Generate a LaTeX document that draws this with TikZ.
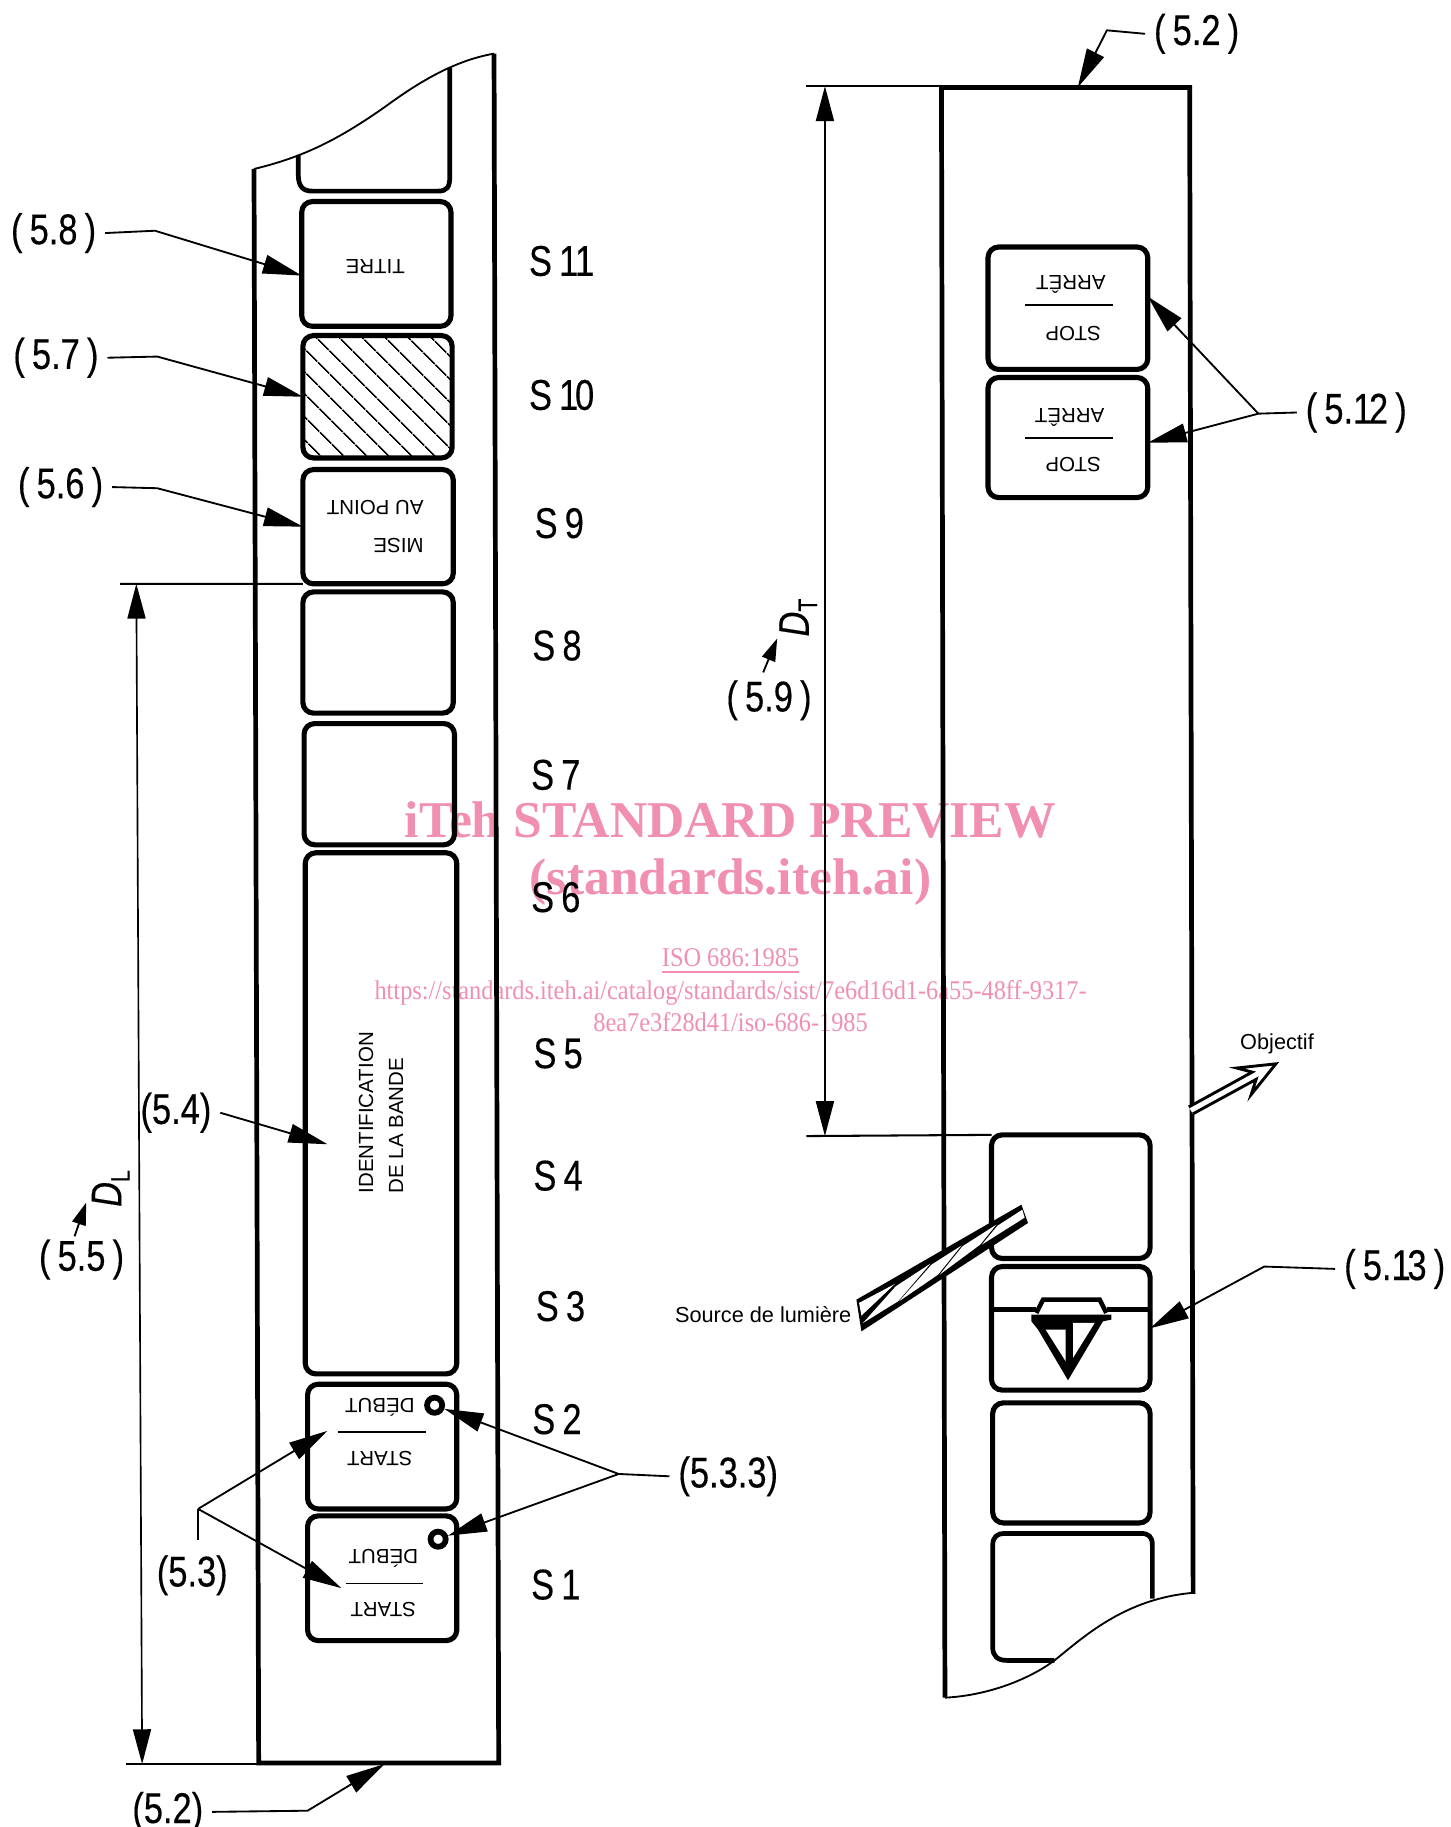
\documentclass[tikz,border=0pt]{standalone}
\usepackage{fontspec}
\setmainfont{Liberation Sans}
\newfontfamily\dinfont[FakeStretch=0.8,FakeBold=0.3,WordSpace=0.75]{Liberation Sans}
\newfontfamily\markfont{Liberation Serif}
\newfontfamily\urlfont[FakeStretch=0.9]{Liberation Serif}
\usetikzlibrary{arrows.meta,patterns.meta}
\definecolor{markpink}{HTML}{F08FAF}
\tikzset{
  stripline/.style={line width=1.15pt},
  cell/.style={draw, line width=1.25pt, rounded corners=2.6pt, inner sep=0pt, outer sep=0pt},
  tag/.style={font=\dinfont\fontsize{10.5}{12}\selectfont, inner sep=2pt},
  tiny/.style={font=\fontsize{5}{5.8}\selectfont, inner sep=0pt},
  leader/.style={line width=.45pt},
  pointer/.style={leader, -{Triangle[length=9.5pt, width=4.6pt]}},
  dimline/.style={line width=.4pt, {Triangle[length=8.5pt, width=4.4pt]}-{Triangle[length=8.5pt, width=4.4pt]}},
  extline/.style={line width=.5pt},
  rulebar/.style={line width=.4pt},
  hole/.style={circle, draw, line width=1.4pt, minimum size=.13cm, inner sep=0pt},
  stamptext/.style={text=markpink, font=\markfont\bfseries\fontsize{12.6}{14}\selectfont, inner sep=0pt},
  stampurl/.style={text=markpink, font=\urlfont\fontsize{6.6}{7}\selectfont, inner sep=0pt}
}
\begin{document}
\begin{tikzpicture}[x=.01cm, y=-.01cm]
  \useasboundingbox (0, 0) rectangle (1245, 1568);

  % watermark
  \node [stamptext] (wm1) at (627, 704) {iTeh STANDARD PREVIEW};
  \node [stamptext] (wm2) at (627, 757) {(standards.iteh.ai)};
  \node [stampurl] (wm3) at (627, 825) {\underline{ISO 686:1985}};
  \node [stampurl] (wm4) at (627, 852) {https://standards.iteh.ai/catalog/standards/sist/7e6d16d1-6a55-48ff-9317-};
  \node [stampurl] (wm5) at (627, 877) {8ea7e3f28d41/iso-686-1985};

  % left strip
  \draw [stripline] (218, 145) -- (222, 1513) -- (428, 1513) -- (424, 46);
  \draw [leader] (218, 145) .. controls (260, 135) and (290, 120) .. (330, 92) .. controls (360, 70) and (390, 52) .. (424, 46);
  \draw [stripline] (256, 133) -- (256, 150) .. controls (256, 160) and (260, 164) .. (268, 164) -- (376, 164) .. controls (384, 164) and (386, 160) .. (386, 152) -- (386, 58);
  \node [cell, minimum width=1.28cm, minimum height=1.07cm] (s11) at (323, 226.5) {};
  \node [cell, minimum width=1.28cm, minimum height=1.05cm, pattern={Lines[angle=-45, distance=4pt, line width=.4pt]}] (s10) at (324, 340.5) {};
  \node [cell, minimum width=1.29cm, minimum height=.98cm] (s9) at (324.5, 452) {};
  \node [cell, minimum width=1.29cm, minimum height=1.04cm] (s8) at (324.5, 560) {};
  \node [cell, minimum width=1.29cm, minimum height=1.04cm] (s7) at (325.5, 673) {};
  \node [cell, minimum width=1.30cm, minimum height=4.47cm] (s3) at (327, 955.5) {};
  \node [cell, minimum width=1.28cm, minimum height=1.07cm] (s2) at (328, 1241.5) {};
  \node [cell, minimum width=1.28cm, minimum height=1.07cm] (s1) at (328, 1354.5) {};

  % texts on the left cells
  \node [tiny, rotate=180] (titre) at (322, 229) {TITRE};
  \node [tiny, rotate=180, align=left] (mise) at (322, 452) {MISE\\[3.6pt]AU POINT};
  \node [tiny, rotate=90, align=left] (ident) at (327, 955) {IDENTIFICATION\\[1.5pt]DE LA BANDE};
  \node [tiny, rotate=180] (debut2) at (326, 1208) {DÉBUT};
  \node [tiny, rotate=180] (start2) at (326, 1252) {START};
  \node [tiny, rotate=180] (debut1) at (329, 1337) {DÉBUT};
  \node [tiny, rotate=180] (start1) at (329, 1381) {START};
  \draw [rulebar] (290, 1229) -- (366, 1229);
  \draw [rulebar] (297, 1359) -- (363, 1359);
  \node [hole] (hole2) at (373, 1206) {};
  \node [hole] (hole1) at (376, 1321) {};

  % frame numbers
  \node [tag] (n11) at (482, 224) {S 1\kern-.8pt 1};
  \node [tag] (n10) at (482, 339) {S 1\kern-.8pt 0};
  \node [tag] (n9) at (480, 449) {S 9};
  \node [tag] (n8) at (478, 554) {S 8};
  \node [tag] (n7) at (477, 665) {S 7};
  \node [tag] (n6) at (477, 770) {S 6};
  \node [tag] (n5) at (479, 904) {S 5};
  \node [tag] (n4) at (479, 1009) {S 4};
  \node [tag] (n3) at (481, 1121) {S 3};
  \node [tag] (n2) at (478, 1218) {S 2};
  \node [tag] (n1) at (477, 1360) {S 1};

  % left references
  \node [tag] (ref58) at (46, 200) {( 5.8 )};
  \node [tag] (ref57) at (48, 307) {( 5.7 )};
  \node [tag] (ref56) at (52, 418) {( 5.6 )};
  \node [tag] (ref54) at (151, 955) {(5.4)};
  \node [tag] (ref55) at (70, 1081) {( 5.5 )};
  \node [tag] (ref53) at (165, 1352) {(5.3)};
  \node [tag] (ref533) at (625, 1267) {(5.3.3)};
  \node [tag] (ref52a) at (144, 1555) {(5.2)};
  \draw [pointer] (ref58.east) -- (133, 198) -- ([yshift=-.1cm]s11.west);
  \draw [pointer] (ref57.east) -- (135, 306) -- (s10.west);
  \draw [pointer] (ref56.east) -- (135, 419) -- (s9.west);
  \draw [pointer] (ref54.east) -- (281, 982);
  \coordinate (apex53) at (170, 1295);
  \coordinate (apex533) at (531, 1265);
  \draw [leader] (apex53) -- ([yshift=.05cm]ref53.north -| apex53);
  \draw [pointer] (apex53) -- (281, 1228);
  \draw [pointer] (apex53) -- (293, 1363);
  \draw [leader] (ref533.west) -- (apex533);
  \draw [pointer] (apex533) -- (hole2);
  \draw [pointer] (apex533) -- (hole1);
  \draw [pointer] (ref52a.east) -- (264, 1554) -- (330, 1514);

  % left dimension
  \coordinate (dl1) at (117, 501);
  \coordinate (dl2) at (122, 1514);
  \draw [extline] (103, 501) -- (s9.south west);
  \draw [extline] (108, 1514) -- (222, 1514);
  \draw [dimline] (dl1) -- (dl2);
  \node [tag, rotate=90] (dl) at (95, 1020) {{\itshape D}\raisebox{-2pt}{\fontsize{6.5}{7}\selectfont L}};
  \draw [leader, -{Triangle[length=5.5pt, width=3.4pt]}] ([shift={(-6, 5)}]ref55.north) -- (74, 1032);

  % right strip
  \draw [stripline] (811, 1457) -- (808, 75) -- (1021, 75) -- (1024, 1368);
  \draw [leader] (811, 1457) .. controls (850, 1455) and (885, 1440) .. (905, 1425) .. controls (930, 1405) and (965, 1372) .. (1024, 1367);
  \node [cell, minimum width=1.37cm, minimum height=1.05cm] (stop2) at (916.5, 264.5) {};
  \node [cell, minimum width=1.37cm, minimum height=1.03cm] (stop1) at (916.5, 375.5) {};
  \node [tiny, rotate=180] (arret2) at (919, 244) {ARRÊT};
  \node [tiny, rotate=180] (halt2) at (921, 286) {STOP};
  \node [tiny, rotate=180] (arret1) at (918, 358) {ARRÊT};
  \node [tiny, rotate=180] (halt1) at (921, 399) {STOP};
  \draw [rulebar] (880, 262) -- (955, 262);
  \draw [rulebar] (880, 376) -- (955, 376);
  \node [cell, minimum width=1.36cm, minimum height=1.06cm] (c4) at (919, 1027) {};
  \node [cell, minimum width=1.36cm, minimum height=1.06cm] (c3) at (919, 1140) {};
  \node [cell, minimum width=1.35cm, minimum height=1.03cm] (c2) at (919.5, 1255.5) {};
  \draw [stripline] (905, 1425) -- (864, 1425) .. controls (856, 1425) and (852, 1421) .. (852, 1414) -- (852, 1326) .. controls (852, 1319) and (856, 1316) .. (862, 1316) -- (979, 1316) .. controls (986, 1316) and (989, 1319) .. (989, 1326) -- (989, 1372);

  % diamond mark
  \draw [stripline] (853, 1124) -- (889, 1124);
  \draw [stripline] (950, 1124) -- (986, 1124);
  \draw [line width=1.1pt] (889.4, 1126.8) -- (895.2, 1115.4) -- (943.8, 1115.4) -- (949.5, 1126.8);
  \fill (885.2, 1128.3) -- (953.8, 1128.3) -- (953.8, 1132.5) -- (946.6, 1134) -- (916.6, 1184.6) -- (890.9, 1141.1) -- (885.2, 1134) -- cycle;
  \fill [white] (897.4, 1141.1) -- (914.6, 1141.1) -- (914.6, 1168.3) -- cycle;
  \fill [white] (920.9, 1135.4) -- (939.5, 1135.4) -- (920.9, 1165.4) -- cycle;

  % light source
  \fill (735, 1115.4) -- (876.6, 1033.9) -- (882.3, 1049.6) -- (739.3, 1142.6) -- cycle;
  \fill [white] (737.3, 1118.2) -- (767.9, 1102) -- (739.3, 1129.1) -- cycle;
  \fill [white] (740.7, 1135.4) -- (768.7, 1104) -- (798.5, 1084.5) -- (770.8, 1116.8) -- cycle;
  \fill [white] (771.6, 1116.8) -- (799.4, 1085.4) -- (825.1, 1069) -- (805.1, 1093.9) -- cycle;
  \fill [white] (806.5, 1093.9) -- (826, 1069.6) -- (855.1, 1051) -- (841.2, 1068.2) -- cycle;
  \fill [white] (842.6, 1068.2) -- (856, 1052) -- (877.4, 1038.2) -- (879.4, 1045) -- cycle;
  \node [tiny, font=\fontsize{5.3}{6}\selectfont] (source) at (655, 1128) {Source de lumière};
  \node [tiny, font=\fontsize{5.3}{6}\selectfont] (objectif) at (1096, 896) {Objectif};
  \draw [line width=.7pt, fill=white, line join=miter] (1020.3, 950) -- (1074.7, 920.1) -- (1061.4, 916.6) -- (1095, 913) -- (1073.8, 939.4) -- (1078.1, 926.3) -- (1023.7, 956);

  % right references
  \node [tag] (ref52b) at (1027, 29) {( 5.2 )};
  \node [tag] (ref512) at (1164, 354) {( 5.1\kern-.8pt 2 )};
  \node [tag] (ref513) at (1197, 1089) {( 5.1\kern-.8pt 3 )};
  \node [tag] (ref59) at (660, 601) {( 5.9 )};
  \draw [pointer] (ref52b.west) -- (950, 26) -- (925, 75);
  \coordinate (apex512) at (1080, 355);
  \draw [leader] (ref512.west) -- (apex512);
  \draw [pointer] (apex512) -- ([yshift=.1cm]stop2.east);
  \draw [pointer] (apex512) -- ([yshift=-.045cm]stop1.east);
  \draw [pointer] (ref513.west) -- (1085, 1087) -- (987, 1140);

  % right dimension
  \coordinate (dt1) at (708, 74);
  \coordinate (dt2) at (708, 975);
  \draw [extline] (692, 74) -- (808, 74);
  \draw [extline] (692, 975) -- (c4.north west);
  \draw [dimline] (dt1) -- (dt2);
  \node [tag, rotate=90] (dt) at (685, 530) {{\itshape D}\raisebox{-2pt}{\fontsize{6.5}{7}\selectfont T}};
  \draw [leader, -{Triangle[length=5.5pt, width=3.4pt]}] ([shift={(-5, 1)}]ref59.north) -- (667, 548);
\end{tikzpicture}
\end{document}
